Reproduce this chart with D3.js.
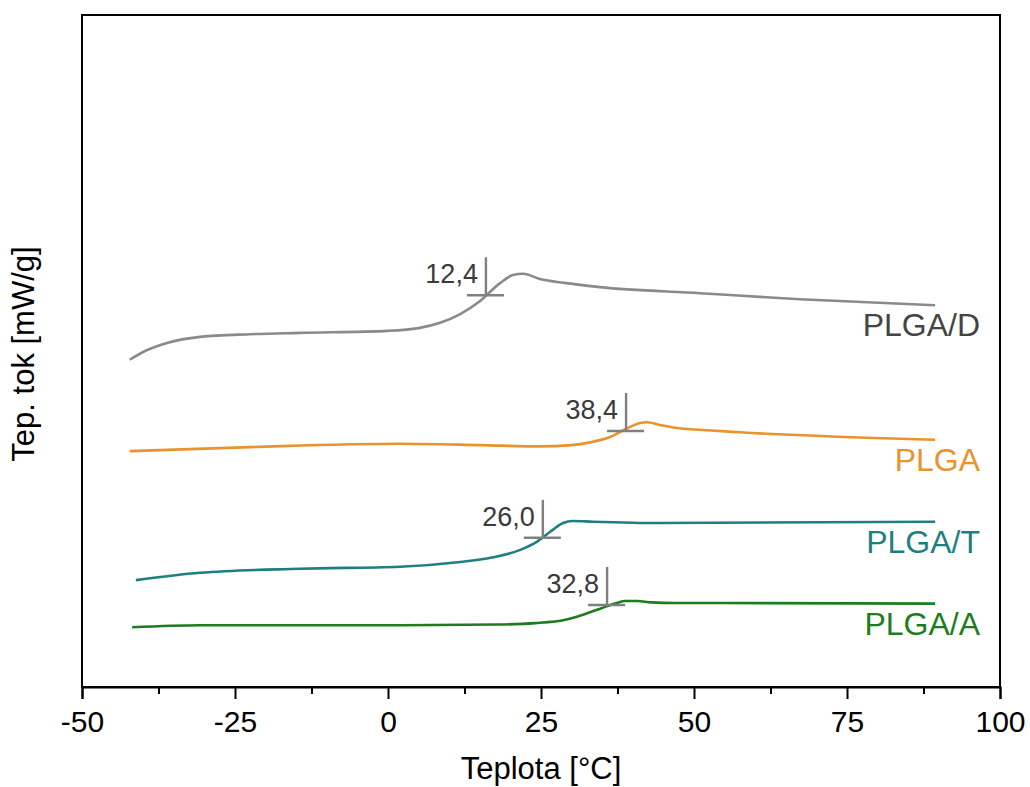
<html>
<meta charset="utf-8" />
<head>
<title>DSC PLGA</title>
<style>
body { margin: 0; background: #fff; }
svg text { font-family: "Liberation Sans", Arial, sans-serif; }
</style>
<script src="https://d3js.org/d3.v7.min.js" charset="utf-8"></script>
</head>
<body>
<svg class="chart"></svg>
<script>
var chartWidth = 1030;
var chartHeight = 787;

/* data: temperature [°C], heat flow (arbitrary offset units) */
var seriesNames = ["PLGA/D", "PLGA", "PLGA/T", "PLGA/A"];

var plgaD = [
  [-42.2, 4.87], [-39.7, 5.00], [-36.1, 5.12], [-30.7, 5.21], [-22.5, 5.25],
  [-14.4, 5.27], [0.0, 5.30], [5.0, 5.34], [8.5, 5.42], [11.8, 5.55], [15.0, 5.74],
  [18.3, 6.01], [20.4, 6.13], [22.1, 6.15], [24.8, 6.07], [29.2, 6.01],
  [34.6, 5.95], [51.0, 5.86], [67.3, 5.77], [89.4, 5.68]
];
var plga = [
  [-42.2, 3.51], [-22.5, 3.57], [2.0, 3.62], [15.0, 3.60], [24.8, 3.58],
  [30.0, 3.60], [33.0, 3.64], [36.3, 3.72], [39.1, 3.85], [41.2, 3.93], [42.3, 3.94],
  [44.4, 3.90], [47.7, 3.85], [52.1, 3.82], [57.5, 3.79], [89.4, 3.68]
];
var plgaT = [
  [-41.2, 1.59], [-30.7, 1.70], [-14.4, 1.76], [2.0, 1.79], [11.8, 1.86],
  [17.2, 1.93], [21.6, 2.04], [24.3, 2.16], [26.5, 2.31], [28.6, 2.44],
  [30.2, 2.47], [33.5, 2.46], [44.4, 2.44], [89.4, 2.46]
];
var plgaA = [
  [-41.8, 0.89], [-30.7, 0.92], [2.0, 0.92], [18.0, 0.93], [24.0, 0.95], [29.0, 1.00],
  [32.0, 1.08], [35.1, 1.18], [37.4, 1.25], [38.7, 1.28], [40.7, 1.28],
  [43.0, 1.26], [47.0, 1.25], [54.2, 1.25], [89.4, 1.24]
];

/* glass transition marks: where the tangent cross sits, and the printed Tg */
var tgLabels = ["12,4", "38,4", "26,0", "32,8"];
var tgMarkT = [16.0, 38.9, 25.3, 35.8];
var tgMarkY = [5.83, 3.81, 2.22, 1.22];

var xTicks = [-50, -25, 0, 25, 50, 75, 100];
var xMinorTicks = [-37.5, -12.5, 12.5, 37.5, 62.5, 87.5];
var colors = ["#8a8a8a", "#e8932c", "#1f7f80", "#1d7d1d"];
var labelColors = ["#444444", "#e8932c", "#1f7f80", "#1d7d1d"];

var allSeries = [plgaD, plga, plgaT, plgaA];

var svg = d3.select(".chart")
  .attr("width", chartWidth)
  .attr("height", chartHeight);

var x = d3.scaleLinear()
  .domain([-50, 100])
  .range([82, 1000]);

var y = d3.scaleLinear()
  .domain([0, 10])
  .range([687, 15]);

// frame
svg.append("rect")
  .attr("x", x(-50)).attr("y", y(10))
  .attr("width", x(100) - x(-50)).attr("height", y(0) - y(10))
  .attr("fill", "none").attr("stroke", "#000").attr("stroke-width", 2);

// bottom axis, minor and major ticks in separate groups
var minorG = svg.append("g").attr("transform", "translate(0," + y(0) + ")")
  .call(d3.axisBottom(x).tickValues(xMinorTicks).tickSize(7).tickFormat(""));
minorG.select("path.domain").remove();

var axisG = svg.append("g").attr("transform", "translate(0," + y(0) + ")")
  .call(d3.axisBottom(x).tickValues(xTicks).tickSize(12).tickPadding(12)
    .tickFormat(function(d) { return String(d); }));

svg.selectAll(".tick line, path.domain").attr("stroke", "#000").attr("stroke-width", 2);
axisG.selectAll("text")
  .attr("font-size", 30)
  .attr("font-family", "Liberation Sans, Arial, sans-serif")
  .attr("fill", "#000");

// axis titles
svg.append("text")
  .attr("x", (x(-50) + x(100)) / 2)
  .attr("y", 779)
  .attr("text-anchor", "middle")
  .attr("font-size", 31)
  .text("Teplota [°C]");

svg.append("text")
  .attr("transform", "translate(34,354) rotate(-90)")
  .attr("text-anchor", "middle")
  .attr("font-size", 31)
  .text("Tep. tok [mW/g]");

// curves
var line = d3.line()
  .x(function(d) { return x(d[0]); })
  .y(function(d) { return y(d[1]); })
  .curve(d3.curveMonotoneX);

svg.selectAll("path.curve")
  .data(allSeries)
  .enter().append("path")
  .attr("class", "curve")
  .attr("d", line)
  .attr("fill", "none")
  .attr("stroke", function(d, i) { return colors[i]; })
  .attr("stroke-width", 2.6);

// series labels, right-aligned under the end of each curve
svg.selectAll("text.series")
  .data(allSeries)
  .enter().append("text")
  .attr("class", "series")
  .attr("x", 980)
  .attr("y", function(d) { return y(d[d.length - 1][1]) + 31; })
  .attr("text-anchor", "end")
  .attr("font-size", 32)
  .attr("fill", function(d, i) { return labelColors[i]; })
  .text(function(d, i) { return seriesNames[i]; });

// Tg tangent crosses
var marks = svg.selectAll("g.tg")
  .data(tgLabels)
  .enter().append("g")
  .attr("class", "tg");

marks.append("line")
  .attr("x1", function(d, i) { return x(tgMarkT[i]); })
  .attr("x2", function(d, i) { return x(tgMarkT[i]); })
  .attr("y1", function(d, i) { return y(tgMarkY[i]) - 38; })
  .attr("y2", function(d, i) { return y(tgMarkY[i]); })
  .attr("stroke", "#808080").attr("stroke-width", 2.4);

marks.append("line")
  .attr("x1", function(d, i) { return x(tgMarkT[i]) - 19; })
  .attr("x2", function(d, i) { return x(tgMarkT[i]) + 18; })
  .attr("y1", function(d, i) { return y(tgMarkY[i]); })
  .attr("y2", function(d, i) { return y(tgMarkY[i]); })
  .attr("stroke", "#808080").attr("stroke-width", 2.4);

marks.append("text")
  .attr("x", function(d, i) { return x(tgMarkT[i]) - 8; })
  .attr("y", function(d, i) { return y(tgMarkY[i]) - 12; })
  .attr("text-anchor", "end")
  .attr("font-size", 27)
  .attr("fill", "#3a3a3a")
  .text(function(d) { return d; });
</script>
</body>
</html>
